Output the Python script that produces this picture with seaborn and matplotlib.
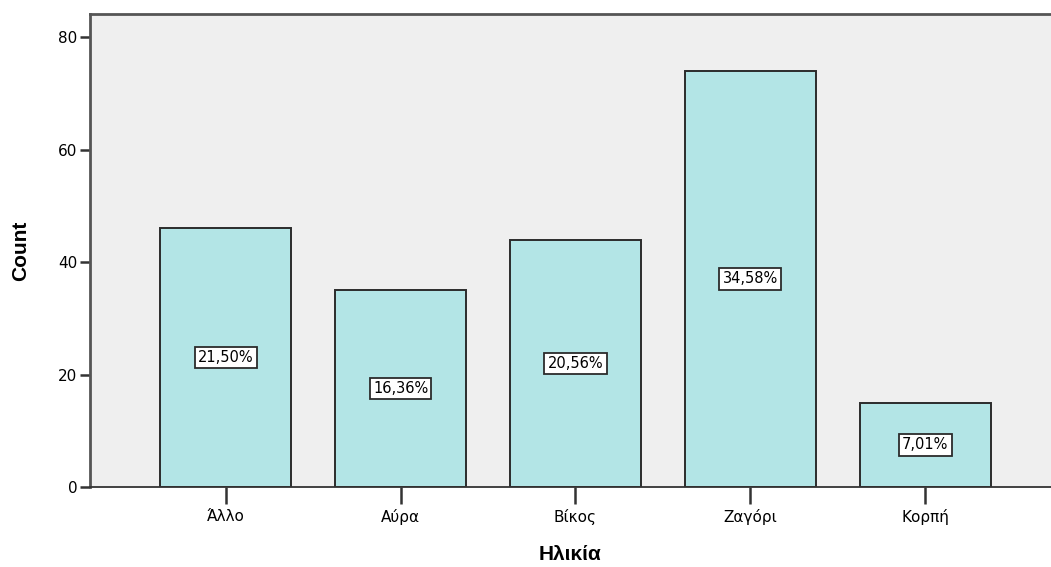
import pandas as pd
import numpy as np
import matplotlib
matplotlib.use("Agg")
import matplotlib.pyplot as plt
import seaborn as sns

# values
categories = ["Άλλο", "Αύρα", "Βίκος", "Ζαγόρι", "Κορπή"]
counts = [46, 35, 44, 74, 15]
percentLabels = ["21,50%", "16,36%", "20,56%", "34,58%", "7,01%"]

df = pd.DataFrame({"Ηλικία": categories, "Count": counts})

sns.set_style("white")
plt.rcParams['font.family'] = ['DejaVu Sans']
plt.rcParams['text.color'] = "black"
plt.rcParams['xtick.color'] = "black"
plt.rcParams['ytick.color'] = "black"
plt.rcParams['axes.labelcolor'] = "black"

fig = plt.figure(figsize=(10.51, 5.67), dpi=100)
ax = fig.add_axes([90 / 1051, 80 / 567, 1 - 90 / 1051, (487 - 14) / 567])
ax.set_facecolor("#efefef")

sns.barplot(data=df, x="Ηλικία", y="Count", color="#b3e5e6", saturation=1,
            edgecolor="#2b2b2b", linewidth=1.4, width=0.75, ax=ax)

# percentage boxes at half the bar height
for i, (c, lab) in enumerate(zip(counts, percentLabels)):
    ax.text(i, c / 2, lab, ha="center", va="center", fontsize=10.5, color="black",
            bbox=dict(boxstyle="square,pad=0.22", fc="white", ec="#2b2b2b", lw=1.3))

ax.set_xlim(-0.777, 4.72)
ax.set_ylim(0, 84.1)
ax.set_yticks([0, 20, 40, 60, 80])

for side in ["left", "top"]:
    ax.spines[side].set_color("#555555")
    ax.spines[side].set_linewidth(2)
ax.spines["right"].set_visible(False)
ax.spines["bottom"].set_color("#333333")
ax.spines["bottom"].set_linewidth(1.3)

ax.tick_params(axis="y", direction="out", length=7, width=1.8, color="#333333",
               labelsize=11, pad=2, left=True, labelcolor="black")
ax.tick_params(axis="x", direction="out", length=12, width=1.8, color="#333333",
               labelsize=11, pad=4, bottom=True, labelcolor="black")

ax.set_xlabel("Ηλικία", fontsize=15, fontweight="bold", family="Liberation Sans", labelpad=14)
ax.set_ylabel("Count", fontsize=15, fontweight="bold", family="Liberation Sans", labelpad=20)

fig.savefig("out.png", dpi=100)
